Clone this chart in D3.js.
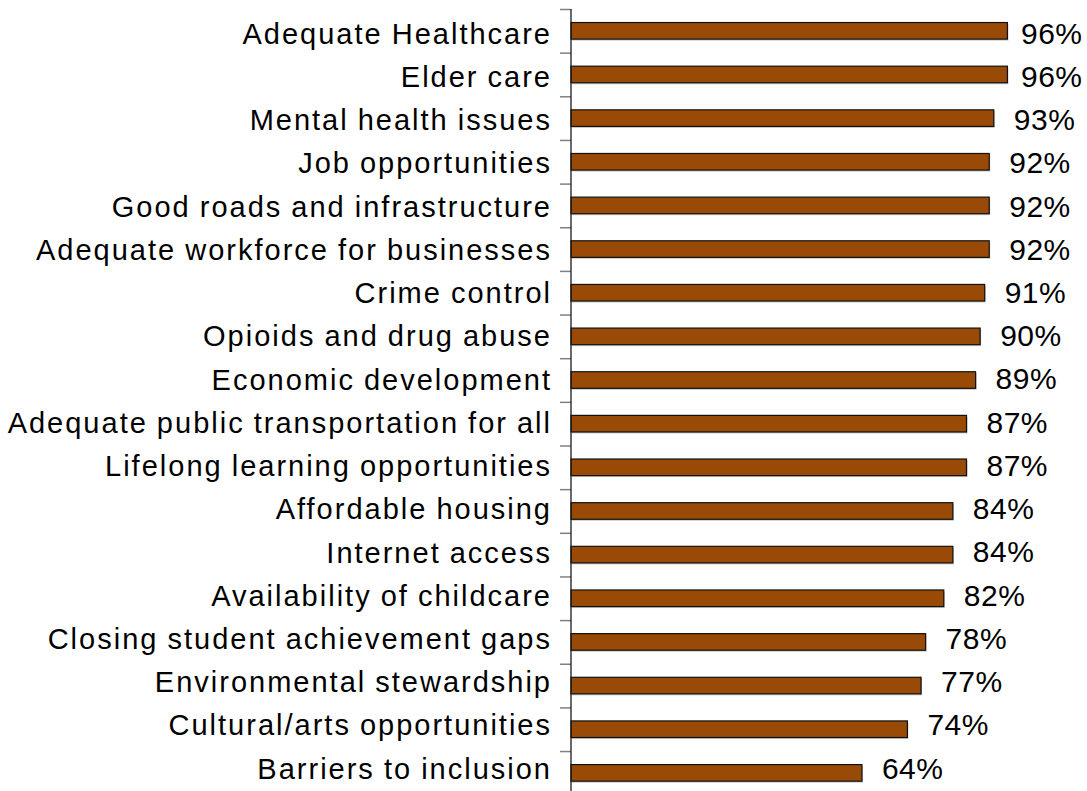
<!DOCTYPE html>
<html>
<head>
<meta charset="utf-8">
<script src="https://cdn.jsdelivr.net/npm/d3@7"></script>
<style>
  html, body { margin: 0; padding: 0; background: #fff; }
  svg { display: block; }
  text { font-family: "Liberation Sans", Arial, sans-serif; fill: #000; }
</style>
</head>
<body>
<svg id="chart" width="1087" height="791"></svg>
<script>
// Share of respondents rating each issue as important
const categories = [
  "Adequate Healthcare",
  "Elder care",
  "Mental health issues",
  "Job opportunities",
  "Good roads and infrastructure",
  "Adequate workforce for businesses",
  "Crime control",
  "Opioids and drug abuse",
  "Economic development",
  "Adequate public transportation for all",
  "Lifelong learning opportunities",
  "Affordable housing",
  "Internet access",
  "Availability of childcare",
  "Closing student achievement gaps",
  "Environmental stewardship",
  "Cultural/arts opportunities",
  "Barriers to inclusion"
];
const values = [0.96, 0.96, 0.93, 0.92, 0.92, 0.92, 0.91, 0.90, 0.89, 0.87, 0.87, 0.84, 0.84, 0.82, 0.78, 0.77, 0.74, 0.64];

const W = 1087, H = 791;
const margin = { left: 571, top: 9, right: 61.4 };
const plotBottom = 794.7;

const svg = d3.select("#chart");

const x = d3.scaleLinear()
  .domain([0, 1])
  .range([margin.left, W - margin.right]);

const y = d3.scaleBand()
  .domain(categories)
  .range([margin.top, plotBottom])
  .paddingInner(0.62)
  .paddingOuter(0.31);

// Text rows sit on a slightly tighter pitch than the bars
const yText = d3.scalePoint()
  .domain(categories)
  .range([32.5, 767.5]);

// Boundary ticks between categories
const yEdge = d3.scaleLinear()
  .domain([0, categories.length])
  .range([margin.top, plotBottom]);

const edgeAxis = svg.append("g")
  .attr("transform", `translate(${margin.left},0)`)
  .call(d3.axisLeft(yEdge)
    .tickValues(d3.range(0, categories.length + 1))
    .tickSize(11)
    .tickSizeOuter(0)
    .tickFormat(""));
edgeAxis.select(".domain").remove();
edgeAxis.selectAll(".tick line")
  .attr("stroke", "#808080")
  .attr("stroke-width", 1.5);

// Bars with a faint drop shadow
const bars = svg.append("g");
bars.selectAll("rect.shadow")
  .data(values)
  .join("rect")
  .attr("class", "shadow")
  .attr("x", x(0) + 1)
  .attr("y", (d, i) => y(categories[i]) + 1.5)
  .attr("width", d => x(d) - x(0))
  .attr("height", y.bandwidth())
  .attr("fill", "#c8c8c8");

bars.selectAll("rect.bar")
  .data(values)
  .join("rect")
  .attr("class", "bar")
  .attr("x", x(0))
  .attr("y", (d, i) => y(categories[i]))
  .attr("width", d => x(d) - x(0))
  .attr("height", y.bandwidth())
  .attr("fill", "#994a07")
  .attr("stroke", "#111")
  .attr("stroke-width", 1.2);

// Vertical category axis line
svg.append("line")
  .attr("x1", margin.left).attr("x2", margin.left)
  .attr("y1", margin.top).attr("y2", plotBottom)
  .attr("stroke", "#1a1a1a")
  .attr("stroke-width", 1.3);

// Category labels
const labelAxis = svg.append("g")
  .attr("transform", `translate(${margin.left},0)`)
  .call(d3.axisLeft(yText).tickSize(0).tickPadding(19));
labelAxis.select(".domain").remove();
labelAxis.selectAll(".tick text")
  .attr("dy", "0.37em")
  .style("font-size", "29px")
  .style("letter-spacing", "2px")
  .style("word-spacing", "-1px")
  .attr("fill", "#000");

// Value labels
const fmt = d3.format(".0%");
svg.append("g").selectAll("text")
  .data(values)
  .join("text")
  .attr("x", d => Math.min(x(d) + 20, W - 66))
  .attr("y", (d, i) => yText(categories[i]))
  .attr("dy", "0.37em")
  .style("font-size", "30px")
  .style("letter-spacing", "0.5px")
  .text(d => fmt(d));
</script>
</body>
</html>
